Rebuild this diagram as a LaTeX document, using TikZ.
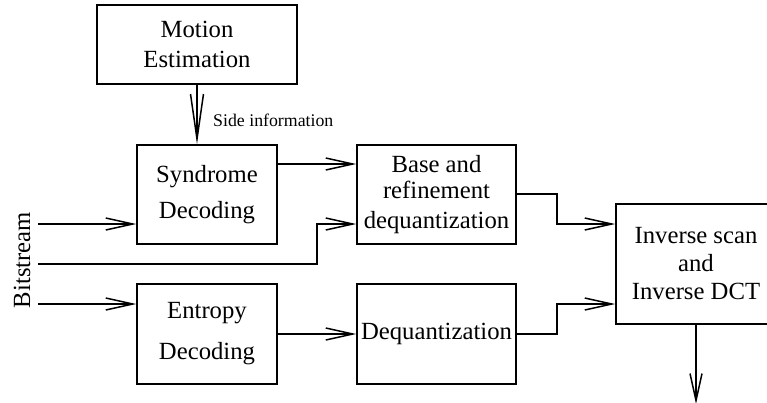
\documentclass[tikz,border=0pt]{standalone}
\usepackage{fontspec}
\setmainfont{Liberation Serif}
\usetikzlibrary{arrows.meta}
\begin{document}
\begin{tikzpicture}[x=1pt,y=-1pt,
  blk/.style={draw,line width=1.5pt,inner sep=0pt,align=center,
    font=\fontsize{24.7}{29.6}\selectfont},
  conn/.style={line width=1.5pt,-{Straight Barb[length=27pt,width=12pt]}},
  longconn/.style={line width=1.5pt,-{Straight Barb[length=45pt,width=13pt]}},
  lbl/.style={inner sep=0pt,font=\fontsize{24.7}{29.6}\selectfont},
  smalllbl/.style={inner sep=0pt,font=\fontsize{17.8}{20}\selectfont}
]
\useasboundingbox (0,0) rectangle (767,402);
\clip (0,0) rectangle (767,402);

\node[blk,minimum width=200pt,minimum height=79pt] (me) at (197,44.5) {Motion\\[0.4pt]Estimation};
\node[blk,minimum width=140pt,minimum height=99pt] (syn) at (207,194.5) {Syndrome\\[6pt]Decoding};
\node[blk,minimum width=140pt,minimum height=100pt] (ent) at (207,334) {Entropy\\[11.4pt]Decoding};
\node[blk,minimum width=159pt,minimum height=99pt] (base) at (436.5,194.5) {Base and\\[-4pt]refinement\\[0pt]dequantization};
\node[blk,minimum width=159pt,minimum height=100pt] (deq) at (436.5,334) {Dequantization};
\node[blk,minimum width=160pt,minimum height=120pt] (inv) at (696,264) {Inverse scan\\[-1.6pt]and\hspace*{18pt}\\[-1.6pt]Inverse DCT};

\node[lbl,rotate=90] (bits) at (22,260) {Bitstream};
\node[smalllbl,anchor=base west] (si) at (213,126) {Side information};

\coordinate (sx) at (197,0);
\coordinate (b1) at (38,224);
\coordinate (b2) at (38,264);
\coordinate (b3) at (38,304);
\coordinate (k1) at (317,264);
\coordinate (k2) at (557,0);
\coordinate (out) at (696,404);

\draw[longconn] (me.south) -- (sx |- syn.north);
\draw[conn] ([yshift=30.5pt]syn.east) -- ([yshift=30.5pt]base.west);
\draw[conn] (b1) -- (b1 -| syn.west);
\draw[conn] (b2) -- (k1) |- ([yshift=-29.5pt]base.west);
\draw[conn] (b3) -- (b3 -| ent.west);
\draw[conn] (ent.east) -- (deq.west);
\draw[conn] ([yshift=0.5pt]base.east) -- ([yshift=0.5pt]base.east -| k2) |- ([yshift=40pt]inv.west);
\draw[conn] (deq.east) -- (deq.east -| k2) |- ([yshift=-40pt]inv.west);
\draw[conn] (inv.south) -- (out);
\end{tikzpicture}
\end{document}
